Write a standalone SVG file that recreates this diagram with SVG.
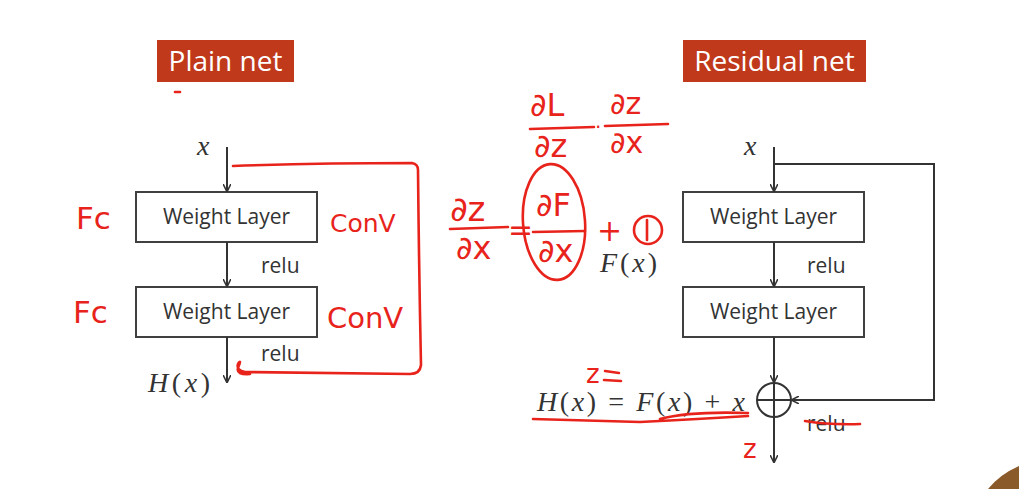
<svg xmlns="http://www.w3.org/2000/svg" width="1019" height="489" viewBox="0 0 1019 489">
<defs>
<marker id="ah" viewBox="0 0 10 10" refX="9" refY="5" markerWidth="8" markerHeight="8" markerUnits="userSpaceOnUse" orient="auto"><path d="M0,0 L10,5 L0,10" fill="none" stroke="#333" stroke-width="2"/></marker>
<style>
.box{fill:#fff;stroke:#404040;stroke-width:2}
.lbl{font-family:"Open Sans","Noto Sans",sans-serif;font-size:21px;fill:#333}
.title{font-family:"Open Sans","Noto Sans",sans-serif;font-size:28px;fill:#fff}
.tbg{fill:#c0391b}
.math{font-family:"Liberation Serif",serif;font-style:italic;font-size:28px;fill:#333}
.up{font-style:normal}
.line{stroke:#333;stroke-width:2;fill:none}
.red{fill:none;stroke:#e8231b;stroke-width:2.6;stroke-linecap:round;stroke-linejoin:round}
.rt{font-family:"DejaVu Sans",sans-serif;fill:#e8231b}
</style>
</defs>
<rect width="1019" height="489" fill="#fff"/>

<g id="title-plain"><rect class="tbg" x="157" y="40" width="137" height="42"/><text class="title" x="225.5" y="71" text-anchor="middle">Plain net</text></g>
<g id="title-residual"><rect class="tbg" x="683" y="40" width="183" height="42"/><text class="title" x="774.5" y="71" text-anchor="middle">Residual net</text></g>

<g id="plain-wl1"><rect class="box" x="136" y="192" width="181" height="50"/><text class="lbl" x="226.5" y="224" text-anchor="middle">Weight Layer</text></g>
<g id="plain-wl2"><rect class="box" x="136" y="287" width="181" height="50"/><text class="lbl" x="226.5" y="319" text-anchor="middle">Weight Layer</text></g>
<g id="res-wl1"><rect class="box" x="683" y="192" width="181" height="50"/><text class="lbl" x="773.5" y="224" text-anchor="middle">Weight Layer</text></g>
<g id="res-wl2"><rect class="box" x="683" y="287" width="181" height="50"/><text class="lbl" x="773.5" y="319" text-anchor="middle">Weight Layer</text></g>
<g id="res-add"><circle class="line" cx="774" cy="400" r="17"/><line class="line" x1="757" y1="400" x2="791" y2="400"/><line class="line" x1="774" y1="383" x2="774" y2="417"/></g>

<g id="labels">
<text class="math" x="197" y="155">x</text>
<text class="lbl" x="261" y="273">relu</text>
<text class="lbl" x="261" y="361">relu</text>
<text class="math" x="148" y="392" textLength="62">H<tspan class="up">(</tspan>x<tspan class="up">)</tspan></text>
<text class="math" x="744" y="155">x</text>
<text class="lbl" x="807" y="273">relu</text>
<text class="lbl" x="807" y="431">relu</text>
<text class="math" x="600" y="272" textLength="57">F<tspan class="up">(</tspan>x<tspan class="up">)</tspan></text>
<text class="math" x="537" y="411" textLength="208">H<tspan class="up">(</tspan>x<tspan class="up">) = </tspan>F<tspan class="up">(</tspan>x<tspan class="up">) + </tspan>x</text>
</g>

<g id="connectors">
<line class="line" x1="227" y1="147" x2="227" y2="191" marker-end="url(#ah)"/>
<line class="line" x1="227" y1="242" x2="227" y2="286" marker-end="url(#ah)"/>
<line class="line" x1="227" y1="337" x2="227" y2="382" marker-end="url(#ah)"/>
<line class="line" x1="774" y1="147" x2="774" y2="191" marker-end="url(#ah)"/>
<line class="line" x1="774" y1="242" x2="774" y2="286" marker-end="url(#ah)"/>
<line class="line" x1="774" y1="337" x2="774" y2="382" marker-end="url(#ah)"/>
<polyline class="line" points="774,164 934,164 934,400 792,400" marker-end="url(#ah)"/>
<line class="line" x1="774" y1="417" x2="774" y2="462" marker-end="url(#ah)"/>
</g>

<g id="annotations">
<path class="red" d="M175,92 L180,92" stroke-width="1.5"/>
<path class="red" d="M233,166 Q320,163 412,163 Q418,164 418,170 Q419,270 421,365 Q420,374 410,374 L245,372 Q236,370 238,364 Q242,358 238,368 Q236,375 250,374"/>
<text class="rt" x="76" y="229" font-size="31">Fc</text>
<text class="rt" x="73" y="323" font-size="31">Fc</text>
<text class="rt" x="330" y="232" font-size="25">ConV</text>
<text class="rt" x="327" y="328" font-size="29">ConV</text>
<text class="rt" x="530" y="116" font-size="32">∂L</text>
<line class="red" x1="530" y1="129" x2="594" y2="127"/>
<text class="rt" x="534" y="157" font-size="32">∂z</text>
<text class="rt" x="595" y="134" font-size="20">·</text>
<text class="rt" x="610" y="114" font-size="30">∂z</text>
<line class="red" x1="605" y1="126" x2="668" y2="124"/>
<text class="rt" x="610" y="153" font-size="30">∂x</text>
<text class="rt" x="450" y="221" font-size="34">∂z</text>
<line class="red" x1="450" y1="229" x2="508" y2="227"/>
<text class="rt" x="456" y="259" font-size="32">∂x</text>
<text class="rt" x="508" y="240" font-size="30">=</text>
<text class="rt" x="536" y="216" font-size="32">∂F</text>
<line class="red" x1="533" y1="232" x2="585" y2="231"/>
<text class="rt" x="538" y="262" font-size="32">∂x</text>
<ellipse class="red" cx="554" cy="222" rx="31" ry="58" transform="rotate(-4 554 222)"/>
<text class="rt" x="597" y="241" font-size="30">+</text>
<path class="red" d="M647,220 L647,240"/>
<circle class="red" cx="648" cy="230" r="14"/>
<text class="rt" x="586" y="383" font-size="26">z</text>
<path class="red" d="M605,371 L619,373 M604,380 L621,381"/>
<path class="red" d="M533,419 Q600,421 640,422 Q700,419 748,416 M660,419 Q690,411 748,413"/>
<text class="rt" x="743" y="458" font-size="26">z</text>
<path class="red" d="M805,421 Q830,425 860,424"/>
</g>
<path d="M988,489 Q1000,474 1019,466 L1019,489 Z" fill="#8b5a2b"/>
</svg>
